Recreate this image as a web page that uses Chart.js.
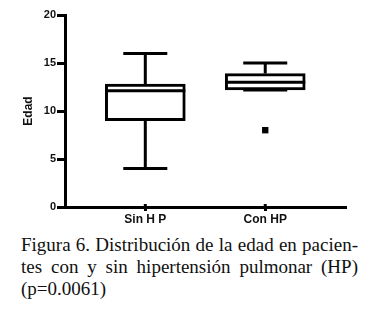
<!DOCTYPE html>
<html>
<head>
<meta charset="utf-8">
<script src="https://cdn.jsdelivr.net/npm/chart.js@4.4.0/dist/chart.umd.min.js"></script>
<style>
  html, body { margin: 0; padding: 0; background: #fff; }
  #wrap { position: relative; width: 377px; height: 316px; overflow: hidden; }
  #c { position: absolute; left: 0; top: 0; }
  #cap { position: absolute; left: 21px; top: 233.5px; width: 337px;
         font-family: "Liberation Serif", "Times New Roman", serif; font-size: 19px;
         line-height: 22px; color: #111; }
  #cap .j { text-align: justify; text-align-last: justify; }
</style>
</head>
<body>
<div id="wrap">
  <canvas id="c" width="377" height="232"></canvas>
  <div id="cap">
    <div class="j">Figura 6. Distribución de la edad en pacien-</div>
    <div class="j">tes con y sin hipertensión pulmonar (HP)</div>
    <div>(p=0.0061)</div>
  </div>
</div>
<script>
const categories = ['Sin H P', 'Con HP'];
const mins    = [4, 12.2];
const q1s     = [9, 12.2];
const medians = [12.1, 13];
const q3s     = [12.8, 13.9];
const maxs    = [16, 15];
const outliers = [[], [8]];
const yTicks = [0, 5, 10, 15, 20];

const positions = categories.map((_, i) => i + 1);
const boxData = positions.map((p, i) => ({ x: p, y: [q1s[i], q3s[i]] }));
const outlierData = [];
outliers.forEach((arr, i) => arr.forEach(v => outlierData.push({ x: positions[i], y: v })));

const LW = 3;

const whiskerPlugin = {
  id: 'whiskers',
  afterDatasetsDraw(chart) {
    const ctx = chart.ctx;
    const xs = chart.scales.x, ys = chart.scales.y;
    ctx.save();
    ctx.strokeStyle = '#000';
    ctx.lineWidth = LW;
    ctx.lineCap = 'butt';
    positions.forEach((p, i) => {
      const cx = xs.getPixelForValue(p);
      const half = 40;
      const cap = 22;
      ctx.beginPath();
      ctx.moveTo(cx - half, ys.getPixelForValue(medians[i]));
      ctx.lineTo(cx + half, ys.getPixelForValue(medians[i]));
      ctx.stroke();
      ctx.beginPath();
      ctx.moveTo(cx, ys.getPixelForValue(q3s[i]));
      ctx.lineTo(cx, ys.getPixelForValue(maxs[i]));
      ctx.moveTo(cx - cap, ys.getPixelForValue(maxs[i]));
      ctx.lineTo(cx + cap, ys.getPixelForValue(maxs[i]));
      ctx.stroke();
      ctx.beginPath();
      ctx.moveTo(cx, ys.getPixelForValue(q1s[i]));
      ctx.lineTo(cx, ys.getPixelForValue(mins[i]));
      ctx.moveTo(cx - cap, ys.getPixelForValue(mins[i]));
      ctx.lineTo(cx + cap, ys.getPixelForValue(mins[i]));
      ctx.stroke();
    });
    positions.forEach(p => {
      const cx = xs.getPixelForValue(p);
      ctx.beginPath();
      ctx.moveTo(cx, ys.getPixelForValue(0) - 3);
      ctx.lineTo(cx, ys.getPixelForValue(0));
      ctx.stroke();
    });
    ctx.restore();
  }
};

new Chart(document.getElementById('c'), {
  type: 'bar',
  data: {
    datasets: [
      {
        type: 'bar',
        data: boxData,
        backgroundColor: '#fff',
        borderColor: '#000',
        borderWidth: LW,
        borderSkipped: false,
        barThickness: 80,
        grouped: false
      },
      {
        type: 'scatter',
        data: outlierData,
        pointStyle: 'rect',
        pointRadius: 4.5,
        backgroundColor: '#000',
        borderColor: '#000',
        borderWidth: 0
      }
    ]
  },
  options: {
    responsive: false,
    animation: false,
    events: [],
    layout: { padding: { top: 15, right: 32, left: 0, bottom: 0 } },
    plugins: { legend: { display: false }, tooltip: { enabled: false } },
    scales: {
      x: {
        type: 'linear',
        offset: false,
        min: 0.3305,
        max: 2.665,
        afterBuildTicks(scale) { scale.ticks = positions.map(v => ({ value: v })); },
        afterFit(scale) { scale.height = 25; },
        ticks: {
          callback: (v) => categories[v - 1],
          color: '#111',
          font: { family: 'Liberation Sans', size: 12, weight: 'bold' },
          padding: 1,
          maxRotation: 0
        },
        grid: { display: true, offset: false, drawOnChartArea: false, drawTicks: true, tickLength: 4, color: '#000', lineWidth: LW },
        border: { display: true, color: '#000', width: LW }
      },
      y: {
        min: 0,
        max: 20,
        afterBuildTicks(scale) { scale.ticks = yTicks.map(v => ({ value: v })); },
        afterFit(scale) { scale.width = 65; },
        ticks: {
          color: '#111',
          font: { family: 'Liberation Sans', size: 11, weight: 'bold' },
          padding: 1
        },
        title: {
          display: true,
          text: 'Edad',
          color: '#111',
          font: { family: 'Liberation Sans', size: 12, weight: 'bold' },
          padding: { top: 21, bottom: 0 }
        },
        grid: { display: true, drawOnChartArea: false, drawTicks: true, tickLength: 8, color: '#000', lineWidth: LW },
        border: { display: true, color: '#000', width: LW }
      }
    }
  },
  plugins: [whiskerPlugin]
});
</script>
</body>
</html>
